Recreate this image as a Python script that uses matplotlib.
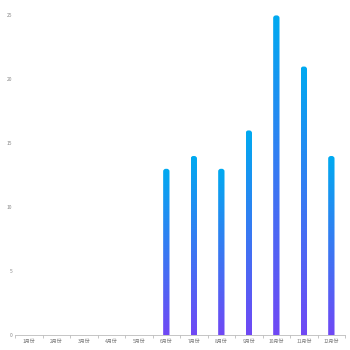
import numpy as np
import matplotlib.pyplot as plt
from matplotlib.patches import FancyBboxPatch
from matplotlib.colors import LinearSegmentedColormap

plt.rcParams['font.family'] = ['Noto Sans CJK SC', 'DejaVu Sans']

months = ["1月份", "2月份", "3月份", "4月份", "5月份", "6月份",
          "7月份", "8月份", "9月份", "10月份", "11月份", "12月份"]
values = [0, 0, 0, 0, 0, 13, 14, 13, 16, 25, 21, 14]
yticks = [0, 5, 10, 15, 20, 25]

cmap = LinearSegmentedColormap.from_list("bar", ["#7048f5", "#00aaf0"])
grad = np.linspace(0, 1, 256).reshape(-1, 1)

fig = plt.figure(figsize=(3.5, 3.5), dpi=100)
ax = fig.add_axes([0.043, 0.043, 0.943, 0.913])

x = np.arange(len(months))
width = 0.23
for xi, v in zip(x, values):
    if v <= 0:
        continue
    # rounded top only: patch extends below 0 and is cut by the axes
    patch = FancyBboxPatch((xi - width / 2, -1), width, v + 1,
                           boxstyle="round,pad=0,rounding_size=0.1",
                           mutation_aspect=2.0,
                           facecolor="none", edgecolor="none")
    ax.add_patch(patch)
    im = ax.imshow(grad, cmap=cmap, aspect="auto", origin="lower",
                   extent=(xi - width / 2, xi + width / 2, 0, v), zorder=2)
    im.set_clip_path(patch)

ax.set_xlim(-0.5, len(months) - 0.5)
ax.set_ylim(0, 25)
ax.set_xticks(x)
ax.set_xticklabels(months)
ax.set_xticks(np.arange(-0.5, len(months)), minor=True)
ax.set_yticks(yticks)
ax.tick_params(axis="x", which="major", length=0, labelsize=3.6,
               labelcolor="#777777", pad=3)
ax.tick_params(axis="x", which="minor", length=2, color="#bbbbbb", width=0.6)
ax.tick_params(axis="y", length=0, labelsize=3.6, labelcolor="#888888", pad=2)
for s in ["top", "right", "left"]:
    ax.spines[s].set_visible(False)
ax.spines["bottom"].set_color("#bbbbbb")
ax.spines["bottom"].set_linewidth(0.6)

fig.savefig("out.png", dpi=100)
